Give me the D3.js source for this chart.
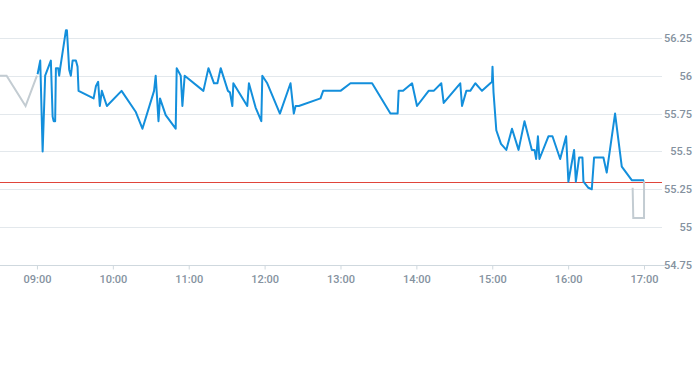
<!DOCTYPE html>
<html>
<head>
<meta charset="utf-8">
<script src="https://cdn.jsdelivr.net/npm/d3@7"></script>
<style>
  body { margin: 0; background: #fff; }
  .tick text { font-family: Roboto, "Open Sans", sans-serif; font-size: 11px; fill: #8592a0; font-weight: 500; }
</style>
</head>
<body>
<div id="chart"></div>
<script>
// intraday price, blue = trading session, grey = pre/post market
var preTimes  = ["08:30:00", "08:36:00", "08:51:00", "09:00:00"];
var preValues = [56.0, 56.0, 55.8, 56.0];

var times = ["09:00:30","09:02:36","09:04:30","09:06:30","09:11:00","09:12:24","09:13:12","09:14:24","09:15:00","09:16:48",
  "09:17:36","09:18:24","09:22:54","09:23:42","09:25:30","09:26:48","09:28:12","09:30:48","09:32:06","09:32:54",
  "09:44:48","09:46:36","09:48:24","09:49:42","09:51:18","09:55:18","10:06:54","10:18:12","10:23:24","10:32:36",
  "10:33:54","10:36:06","10:37:18","10:41:48","10:49:42","10:50:30","10:53:42","10:55:00","10:56:48","11:11:36",
  "11:15:36","11:20:00","11:22:42","11:25:18","11:31:00","11:32:36","11:34:30","11:35:18","11:46:18","11:47:36",
  "11:52:54","11:57:24","11:58:12","12:02:06","12:12:06","12:20:30","12:23:06","12:24:30","12:27:06","12:44:12",
  "12:46:18","13:00:00","13:07:54","13:25:00","13:39:30","13:45:12","13:46:00","13:49:30","13:56:36","14:00:30",
  "14:09:42","14:13:42","14:19:42","14:21:36","14:34:42","14:36:06","14:39:30","14:42:36","14:46:36","14:51:54",
  "14:59:48","15:00:12","15:01:00","15:03:12","15:06:54","15:11:06","15:15:36","15:20:48","15:25:30","15:31:18",
  "15:33:24","15:34:42","15:36:06","15:37:18","15:44:24","15:47:36","15:53:42","15:58:24","16:00:12","16:04:42",
  "16:06:06","16:08:42","16:11:18","16:12:06","16:16:00","16:18:42","16:20:30","16:27:54","16:30:30","16:37:06",
  "16:42:24","16:50:18","17:00:00"];
var values = [56.01,56.1,55.5,56.0,56.1,55.73,55.7,55.7,56.05,56.05,
  56.0,56.05,56.3,56.3,56.04,56.0,56.1,56.1,56.06,55.9,
  55.85,55.93,55.96,55.8,55.9,55.8,55.9,55.76,55.65,55.9,
  56.0,55.7,55.85,55.74,55.65,56.05,56.0,55.8,56.0,55.9,
  56.05,55.95,55.95,56.05,55.9,55.89,55.8,55.95,55.8,55.95,
  55.79,55.7,56.0,55.95,55.75,55.95,55.75,55.8,55.8,55.85,
  55.9,55.9,55.95,55.95,55.75,55.75,55.9,55.9,55.95,55.8,
  55.9,55.9,55.95,55.82,55.95,55.8,55.9,55.9,55.95,55.9,
  55.96,56.06,55.89,55.64,55.55,55.51,55.65,55.51,55.7,55.51,
  55.51,55.45,55.6,55.45,55.6,55.6,55.45,55.6,55.3,55.51,
  55.3,55.46,55.46,55.3,55.26,55.25,55.46,55.46,55.36,55.75,
  55.4,55.31,55.31];

var postTimes  = ["16:51:00", "16:51:30", "17:00:00", "17:00:01"];
var postValues = [55.26, 55.06, 55.06, 55.31];

var prevClose = 55.3;
var yTicks = [54.75, 55, 55.25, 55.5, 55.75, 56, 56.25];
var xTickTimes = ["09:00","10:00","11:00","12:00","13:00","14:00","15:00","16:00","17:00"];

var parseT = d3.timeParse("%H:%M:%S");
var parseHM = d3.timeParse("%H:%M");

var width = 693, height = 365;
var plotRight = 662, plotBottom = 265;

var svg = d3.select("#chart").append("svg")
    .attr("width", width)
    .attr("height", height);

var x = d3.scaleTime()
    .domain([parseHM("08:30"), parseHM("17:15")])
    .range([-1, 663]);

var y = d3.scaleLinear()
    .domain([54.75, 56.5])
    .range([plotBottom, 0]);

// grid
svg.append("g")
    .selectAll("line")
    .data(yTicks.slice(1))
    .enter()
    .append("line")
    .attr("x1", 0)
    .attr("x2", plotRight)
    .attr("y1", d => Math.round(y(d)) + 0.5)
    .attr("y2", d => Math.round(y(d)) + 0.5)
    .attr("stroke", "#e3e8ec");

// right axis labels
var yAxis = d3.axisRight(y)
    .tickValues(yTicks)
    .tickSize(0)
    .tickFormat(d => d3.format("")(d));

svg.append("g")
    .attr("transform", "translate(692,0)")
    .call(yAxis)
    .call(g => g.select(".domain").remove())
    .call(g => g.selectAll("text").attr("x", 0).attr("text-anchor", "end"));

// bottom axis
var xAxis = d3.axisBottom(x)
    .tickValues(xTickTimes.map(parseHM))
    .tickSize(4)
    .tickSizeOuter(0)
    .tickFormat(d3.timeFormat("%H:%M"));

svg.append("g")
    .attr("transform", "translate(0," + (plotBottom + 0.5) + ")")
    .call(xAxis)
    .call(g => g.select(".domain").attr("d", "M0,0H" + (plotRight + 5)).attr("stroke", "#cfd8de"))
    .call(g => g.selectAll(".tick line").attr("stroke", "#cfd8de"))
    .call(g => g.selectAll(".tick text").attr("y", 10));

// previous close
svg.append("line")
    .attr("x1", 0)
    .attr("x2", plotRight)
    .attr("y1", Math.round(y(prevClose)) + 0.5)
    .attr("y2", Math.round(y(prevClose)) + 0.5)
    .attr("stroke", "#e0453a")
    .attr("stroke-width", 1);

var line = d3.line()
    .x(d => x(d[0]))
    .y(d => y(d[1]));

function pairs(ts, vs) {
    return ts.map((t, i) => [parseT(t), vs[i]]);
}

svg.append("path")
    .datum(pairs(preTimes, preValues))
    .attr("d", line)
    .attr("fill", "none")
    .attr("stroke", "#c3ccd2")
    .attr("stroke-width", 2);

svg.append("path")
    .datum(pairs(postTimes, postValues))
    .attr("d", line)
    .attr("fill", "none")
    .attr("stroke", "#c3ccd2")
    .attr("stroke-width", 2);

svg.append("path")
    .datum(pairs(times, values))
    .attr("d", line)
    .attr("fill", "none")
    .attr("stroke", "#138fdc")
    .attr("stroke-width", 2)
    .attr("stroke-linejoin", "round");
</script>
</body>
</html>
